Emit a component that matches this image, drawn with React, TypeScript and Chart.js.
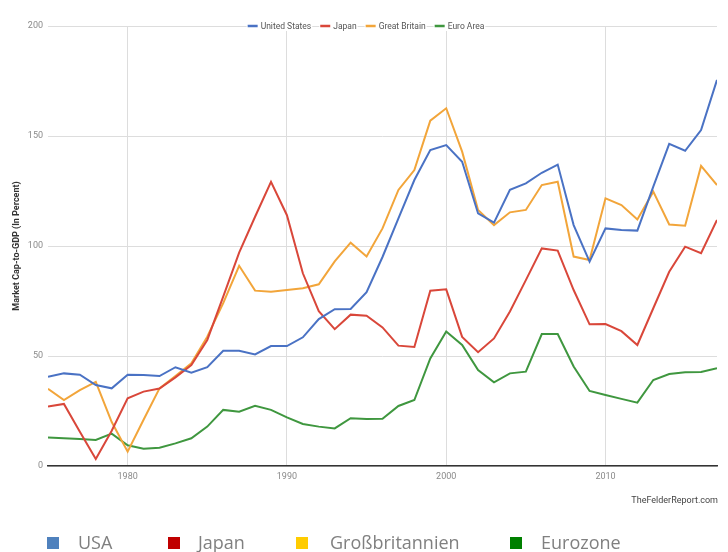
import React, { useEffect, useRef } from "react";
import { Chart, registerables } from "chart.js";

Chart.register(...registerables);

const years: number[] = [
  1975, 1976, 1977, 1978, 1979, 1980, 1981, 1982, 1983, 1984,
  1985, 1986, 1987, 1988, 1989, 1990, 1991, 1992, 1993, 1994,
  1995, 1996, 1997, 1998, 1999, 2000, 2001, 2002, 2003, 2004,
  2005, 2006, 2007, 2008, 2009, 2010, 2011, 2012, 2013, 2014,
  2015, 2016, 2017,
];

const usa: number[] = [
  40.6, 42.1, 41.5, 36.8, 35.3, 41.5, 41.4, 40.9, 44.9, 42.4,
  44.9, 52.4, 52.4, 50.7, 54.5, 54.5, 58.5, 66.8, 71.3, 71.4,
  79, 95, 112.6, 130, 143.6, 145.9, 138.3, 114.8, 110.6, 125.5,
  128.5, 133.3, 137, 109.5, 92.9, 108, 107.3, 107, 127, 146.4,
  143.3, 152.7, 175.5,
];

const japan: number[] = [
  27, 28.2, 15.6, 3.2, 16, 30.8, 33.8, 35.2, 40.3, 45.9,
  57.3, 77, 97, 113.3, 129.2, 114, 87.6, 70.4, 62.2, 68.8,
  68.3, 63, 54.7, 54.1, 79.7, 80.3, 58.7, 51.7, 58, 70.2,
  84.5, 98.9, 97.9, 80, 64.4, 64.5, 61.3, 55, 71.7, 88.3,
  99.7, 96.7, 111.8,
];

const greatBritain: number[] = [
  35.1, 30, 34.5, 38.2, 20, 6.5, 21, 35.3, 40.9, 46.7,
  58.8, 74, 91, 79.7, 79.2, 80, 80.8, 82.6, 93, 101.5,
  95.2, 108, 125.5, 134.5, 157, 162.6, 142.9, 116.4, 109.5, 115.3,
  116.4, 127.7, 129.2, 95.2, 93.6, 121.7, 118.6, 112.1, 124.7, 109.8,
  109.2, 136.4, 127.7,
];

const euroArea: number[] = [
  13, 12.6, 12.3, 11.8, 14.7, 9.4, 7.8, 8.3, 10.3, 12.6,
  17.9, 25.5, 24.7, 27.4, 25.5, 22.1, 19.1, 17.9, 17.1, 21.7,
  21.4, 21.5, 27.3, 30, 48.9, 61.1, 55, 43.6, 38, 42.1,
  42.9, 60, 60, 45.2, 34.1, 32.3, 30.5, 28.8, 39.1, 41.8,
  42.6, 42.7, 44.4,
];

const seriesNames: string[] = ["United States", "Japan", "Great Britain", "Euro Area"];
const seriesColors: string[] = ["#4a72c4", "#d9473a", "#f2a53a", "#3f973f"];
const xTicks: number[] = [1980, 1990, 2000, 2010];
const yTicks: number[] = [0, 50, 100, 150, 200];
const yTitle = "Market Cap-to-GDP (In Percent)";
const sourceText = "TheFelderReport.com";

const bottomLegendNames: string[] = ["USA", "Japan", "Großbritannien", "Eurozone"];
const bottomLegendColors: string[] = ["#4f81bd", "#c00000", "#ffcc00", "#008000"];
const bottomLegendSquareX: number[] = [47, 168, 296, 510];
const bottomLegendTextX: number[] = [78, 198, 330, 541];

const topLegendPlugin = {
  id: "topLegend",
  afterDraw(chart: any) {
    const ctx = chart.ctx as CanvasRenderingContext2D;
    const area = chart.chartArea;
    ctx.save();
    ctx.font = "8.5px Roboto";
    ctx.textBaseline = "middle";
    const markerW = 10;
    const gapMarker = 3;
    const gapItem = 9;
    const widths = seriesNames.map((n) => ctx.measureText(n).width);
    const total = widths.reduce((a, w) => a + markerW + gapMarker + w, 0) + gapItem * (seriesNames.length - 1);
    let x = 366 - total / 2;
    const y = area.top;
    seriesNames.forEach((name, i) => {
      ctx.fillStyle = "#ffffff";
      ctx.fillRect(x - 1, y - 5, markerW + gapMarker + widths[i] + 2, 10);
      ctx.strokeStyle = seriesColors[i];
      ctx.lineWidth = 2.5;
      ctx.beginPath();
      ctx.moveTo(x, y);
      ctx.lineTo(x + markerW, y);
      ctx.stroke();
      ctx.fillStyle = "#555555";
      ctx.textAlign = "left";
      ctx.fillText(name, x + markerW + gapMarker, y + 0.5);
      x += markerW + gapMarker + widths[i] + gapItem;
    });
    ctx.font = "9px Roboto";
    ctx.fillStyle = "#444444";
    ctx.textAlign = "right";
    ctx.fillText(sourceText, area.right + 1, area.bottom + 35);
    ctx.restore();
  },
};

export default function App() {
  const canvasRef = useRef<HTMLCanvasElement | null>(null);

  useEffect(() => {
    document.body.style.margin = "0";
    const canvas = canvasRef.current;
    if (!canvas) return;
    const chart = new Chart(canvas, {
      type: "line",
      data: {
        datasets: [usa, japan, greatBritain, euroArea].map((vals, i) => ({
          label: seriesNames[i],
          data: vals.map((v, j) => ({ x: years[j], y: v })),
          borderColor: seriesColors[i],
          backgroundColor: seriesColors[i],
          borderWidth: 2,
          pointRadius: 0,
          tension: 0,
          fill: false,
        })),
      },
      options: {
        responsive: false,
        animation: false,
        devicePixelRatio: 1,
        layout: { padding: { left: 0, right: 11, top: 26, bottom: 0 } },
        plugins: {
          legend: { display: false },
          tooltip: { enabled: false },
        },
        scales: {
          x: {
            type: "linear",
            min: years[0],
            max: years[years.length - 1],
            afterBuildTicks: (scale: any) => {
              scale.ticks = xTicks.map((v) => ({ value: v }));
            },
            afterFit: (scale: any) => {
              scale.height = 86;
            },
            ticks: {
              color: "#8a8a8a",
              font: { family: "Roboto", size: 9 },
              padding: 5,
              maxRotation: 0,
              callback: (v: any) => String(v),
            },
            grid: { color: "#dddddd", lineWidth: 1, drawTicks: false },
            border: { display: true, color: "#333333", width: 1.5 },
          },
          y: {
            min: 0,
            max: 200,
            afterBuildTicks: (scale: any) => {
              scale.ticks = yTicks.map((v) => ({ value: v }));
            },
            afterFit: (scale: any) => {
              scale.width = 48;
            },
            ticks: {
              color: "#8a8a8a",
              font: { family: "Roboto", size: 9 },
              padding: 5,
            },
            grid: { color: "#dddddd", lineWidth: 1, drawTicks: false },
            border: { display: false },
            title: {
              display: true,
              text: yTitle,
              color: "#333333",
              font: { family: "Roboto", size: 9, weight: "bold" },
              padding: { top: 11, bottom: 0 },
            },
          },
        },
      },
      plugins: [topLegendPlugin],
    });
    return () => chart.destroy();
  }, []);

  return (
    <div style={{ position: "relative", width: 728, height: 552, background: "#ffffff", overflow: "hidden" }}>
      <canvas ref={canvasRef} width={728} height={552} style={{ position: "absolute", left: 0, top: 0 }} />
      {bottomLegendNames.map((name, i) => (
        <React.Fragment key={name}>
          <div
            style={{
              position: "absolute",
              left: bottomLegendSquareX[i],
              top: 537,
              width: 12,
              height: 12,
              background: bottomLegendColors[i],
            }}
          />
          <span
            style={{
              position: "absolute",
              left: bottomLegendTextX[i],
              top: 530,
              lineHeight: "24px",
              fontFamily: "'Open Sans', sans-serif",
              fontSize: 18,
              color: "#808080",
              whiteSpace: "nowrap",
            }}
          >
            {name}
          </span>
        </React.Fragment>
      ))}
    </div>
  );
}
